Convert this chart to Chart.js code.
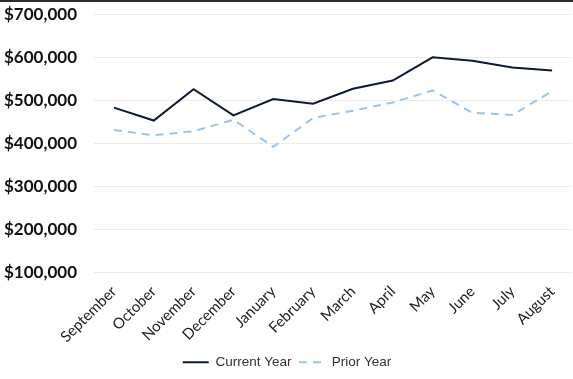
<!DOCTYPE html>
<html>
<head>
<meta charset="utf-8">
<script src="https://cdn.jsdelivr.net/npm/chart.js@4/dist/chart.umd.min.js"></script>
<style>
  html, body { margin: 0; padding: 0; background: #fff; }
  #wrap { width: 573px; height: 379px; position: relative; box-sizing: border-box; border-top: 2px solid #2b2b2b; }
  canvas { display: block; }
</style>
</head>
<body>
<div id="wrap"><canvas id="c" width="573" height="377"></canvas></div>
<script>
const months = ["September","October","November","December","January","February","March","April","May","June","July","August"];
const currentYear = [483000, 453000, 526000, 465000, 503000, 492000, 527000, 546000, 600000, 592000, 576000, 569000];
const priorYear = [431000, 419000, 428000, 455000, 392000, 459000, 476000, 495000, 523000, 471000, 466000, 521000];
const seriesNames = ["Current Year", "Prior Year"];

new Chart(document.getElementById('c'), {
  type: 'line',
  data: {
    labels: months,
    datasets: [
      { label: seriesNames[0], data: currentYear, borderColor: '#0e1a33', backgroundColor: '#0e1a33',
        borderWidth: 2, pointRadius: 0, tension: 0, pointStyle: 'line' },
      { label: seriesNames[1], data: priorYear, borderColor: '#9dc4e6', backgroundColor: '#9dc4e6',
        borderWidth: 2, borderDash: [8, 6], pointRadius: 0, tension: 0, pointStyle: 'line' }
    ]
  },
  options: {
    responsive: false,
    animation: false,
    layout: { padding: { top: 2, right: 1, left: 2, bottom: 0 } },
    plugins: {
      tooltip: { enabled: false },
      legend: {
        position: 'bottom',
        labels: {
          usePointStyle: true,
          pointStyleWidth: 26,
          boxHeight: 10,
          color: '#333',
          font: { family: 'Liberation Sans', size: 13.5 },
          padding: 7.5,
          generateLabels: (chart) => {
            const items = Chart.defaults.plugins.legend.labels.generateLabels(chart);
            return items.map(it => {
              const ds = chart.data.datasets[it.datasetIndex];
              it.lineDash = ds.borderDash || [];
              it.lineWidth = 2;
              it.strokeStyle = ds.borderColor;
              return it;
            });
          }
        }
      }
    },
    scales: {
      x: {
        offset: true,
        grid: { display: false },
        border: { display: false },
        ticks: { color: '#222', maxRotation: 45, minRotation: 45, autoSkip: false,
                 font: { family: 'Lato', size: 15 }, padding: 2 }
      },
      y: {
        min: 100000, max: 700000,
        grid: { color: '#ebebeb', lineWidth: 1, drawTicks: true, tickLength: 15, tickColor: 'rgba(0,0,0,0)' },
        border: { display: false },
        ticks: { stepSize: 100000, padding: 2, color: '#111',
                 font: { family: 'Lato', size: 17, weight: 'bold' },
                 callback: v => '$' + v.toLocaleString('en-US') }
      }
    }
  }
});
</script>
</body>
</html>
